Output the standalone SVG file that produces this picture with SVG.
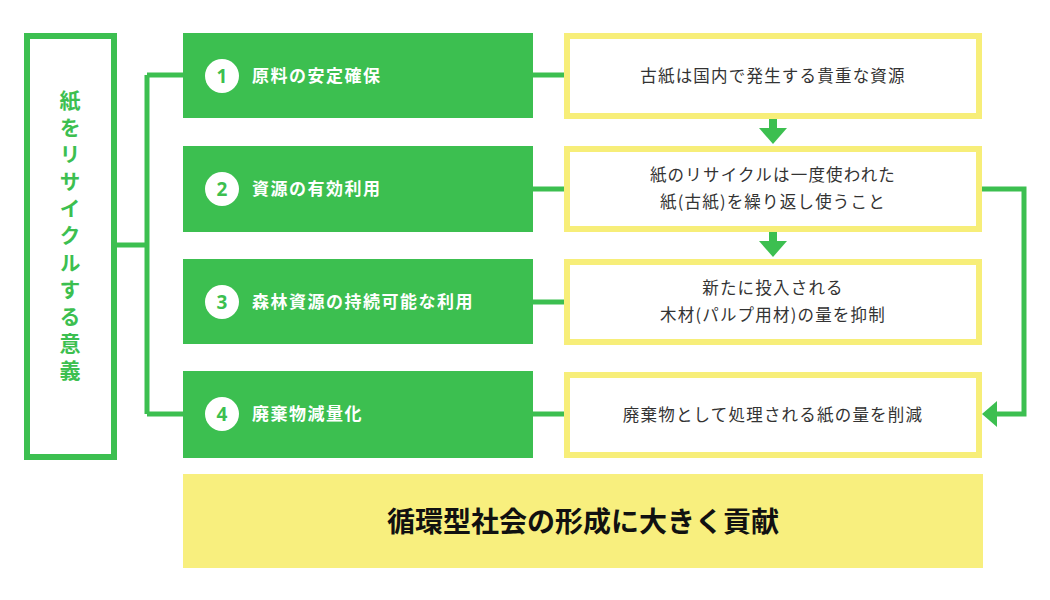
<svg xmlns="http://www.w3.org/2000/svg" width="1050" height="600" viewBox="0 0 1050 600">
<style>
.g{fill:#3cbf50}
.y{fill:#fff;stroke:#f7ee79;stroke-width:6}
.t{font-family:"Noto Sans CJK JP",sans-serif;font-weight:bold;fill:#fff;font-size:17px;letter-spacing:1.5px}
.n{font-family:"Noto Sans",sans-serif;font-weight:bold;fill:#3cbf50;font-size:19px;text-anchor:middle}
.d{font-family:"Noto Sans CJK JP",sans-serif;fill:#333;font-size:16.5px;text-anchor:middle;letter-spacing:1.2px}
.c{fill:none;stroke:#3cbf50;stroke-width:5}
</style>
<rect width="1050" height="600" fill="#fff"/>
<g id="left">
<rect x="27" y="36" width="87" height="421" fill="#fff" stroke="#3cbf50" stroke-width="6"/>
<text x="70" y="90" font-family="Noto Sans CJK JP,sans-serif" font-weight="bold" font-size="21" fill="#3cbf50" style="writing-mode:vertical-rl;letter-spacing:6px">紙をリサイクルする意義</text>
</g>
<g id="connectors">
<path class="c" d="M114 245H147M147 75V414M147 75H183M147 414H183M533 75H566M533 189H566M533 302H566M533 414H566"/>
<path class="c" d="M981 189H1024V414H995"/>
<polygon points="982,414 997,401 997,427" fill="#3cbf50"/>
<rect x="769" y="118" width="8" height="10" fill="#3cbf50"/>
<polygon points="759,128 787,128 773,144" fill="#3cbf50"/>
<rect x="769" y="231" width="8" height="10" fill="#3cbf50"/>
<polygon points="759,241 787,241 773,257" fill="#3cbf50"/>
</g>
<g id="n1"><rect class="g" x="183" y="33" width="350" height="85"/><circle cx="222" cy="76" r="17" fill="#fff"/><text class="n" x="222" y="83">1</text><text class="t" x="252" y="82">原料の安定確保</text></g>
<g id="n2"><rect class="g" x="183" y="146" width="350" height="86"/><circle cx="222" cy="189" r="17" fill="#fff"/><text class="n" x="222" y="196">2</text><text class="t" x="252" y="195">資源の有効利用</text></g>
<g id="n3"><rect class="g" x="183" y="259" width="350" height="85"/><circle cx="222" cy="302" r="17" fill="#fff"/><text class="n" x="222" y="309">3</text><text class="t" x="252" y="308">森林資源の持続可能な利用</text></g>
<g id="n4"><rect class="g" x="183" y="371" width="350" height="87"/><circle cx="222" cy="414" r="17" fill="#fff"/><text class="n" x="222" y="421">4</text><text class="t" x="252" y="420">廃棄物減量化</text></g>
<g id="y1"><rect class="y" x="567" y="36" width="412" height="80"/><text class="d" x="773" y="82">古紙は国内で発生する貴重な資源</text></g>
<g id="y2"><rect class="y" x="567" y="149" width="412" height="80"/><text class="d" x="773" y="181">紙のリサイクルは一度使われた</text><text class="d" x="773" y="208">紙(古紙)を繰り返し使うこと</text></g>
<g id="y3"><rect class="y" x="567" y="262" width="412" height="80"/><text class="d" x="773" y="294">新たに投入される</text><text class="d" x="773" y="321">木材(パルプ用材)の量を抑制</text></g>
<g id="y4"><rect class="y" x="567" y="375" width="412" height="80"/><text class="d" x="773" y="421">廃棄物として処理される紙の量を削減</text></g>
<g id="bottom"><rect x="183" y="474" width="800" height="94" fill="#f8ef7e"/><text x="583" y="532" font-family="Noto Sans CJK JP,sans-serif" font-weight="bold" font-size="28" fill="#111" text-anchor="middle">循環型社会の形成に大きく貢献</text></g>
</svg>
